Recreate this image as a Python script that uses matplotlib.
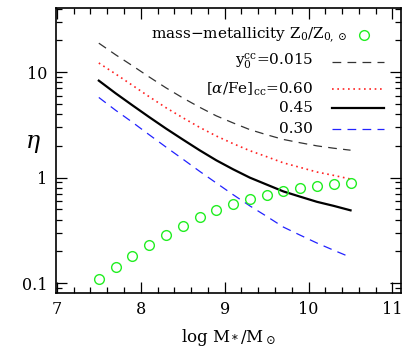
import numpy as np
import matplotlib
matplotlib.use("Agg")
import matplotlib.pyplot as plt
from matplotlib.lines import Line2D

plt.rcParams['font.family'] = ['DejaVu Serif']
plt.rcParams['mathtext.fontset'] = 'dejavuserif'

# stellar mass grid (log M*/Msun)
logm = [7.5, 7.7, 7.9, 8.1, 8.3, 8.5, 8.7, 8.9, 9.1, 9.3, 9.5, 9.7, 9.9, 10.1, 10.3, 10.5]

# mass-metallicity relation Z0/Z0,sun
z_ratio = [0.110, 0.143, 0.182, 0.231, 0.287, 0.349, 0.421, 0.494, 0.560, 0.633,
           0.690, 0.753, 0.794, 0.834, 0.866, 0.897]

# eta curves
eta_y015 = [18.8, 14.6, 11.5, 9.0, 7.1, 5.7, 4.65, 3.85, 3.3, 2.85, 2.55, 2.3, 2.14, 2.0, 1.9, 1.82]
eta_a060 = [12.2, 9.6, 7.5, 5.85, 4.6, 3.7, 3.0, 2.48, 2.1, 1.8, 1.58, 1.38, 1.25, 1.13, 1.05, 0.97]
eta_a045 = [8.3, 6.3, 4.85, 3.75, 2.92, 2.3, 1.82, 1.46, 1.2, 1.0, 0.86, 0.74, 0.66, 0.59, 0.54, 0.49]
eta_a030 = [5.75, 4.35, 3.35, 2.55, 1.95, 1.5, 1.15, 0.89, 0.69, 0.54, 0.43, 0.34, 0.285, 0.24, 0.205, 0.176]

fig = plt.figure(figsize=(4.15, 3.58), dpi=100)
ax = fig.add_axes([0.135, 0.182, 0.831, 0.796])

green = '#22ee22'
ax.plot(logm, eta_y015, color='#333333', lw=0.9, dashes=(7, 5))
ax.plot(logm, eta_a060, color='#ff2222', lw=1.2, dashes=(1, 2.2))
ax.plot(logm, eta_a045, color='black', lw=1.6)
ax.plot(logm, eta_a030, color='#2222ff', lw=0.9, dashes=(7, 5))
ax.plot(logm, z_ratio, 'o', mfc='none', mec=green, ms=7, mew=1.0)

ax.set_yscale('log')
ax.set_xlim(6.99, 11.1)
ax.set_ylim(0.081, 40.6)

ax.set_xticks([7, 8, 9, 10, 11])
ax.set_xticks(np.arange(7.2, 11.1, 0.2), minor=True)
ax.set_yticks([0.1, 1, 10])
ax.set_yticklabels(['0.1', '1', '10'])
ax.tick_params(which='both', direction='in', top=True, right=True, width=0.9, labelsize=11.5)
ax.tick_params(which='major', length=8, pad=6)
ax.tick_params(which='minor', length=4)
for s in ax.spines.values():
    s.set_linewidth(1.2)

ax.set_xlabel(r'log M$_*$/M$_\odot$', fontsize=12, labelpad=6)
ax.set_ylabel(r'$\eta$', fontsize=17, rotation=0)
ax.yaxis.set_label_coords(-0.068, 0.485)

# key, drawn by hand in axes coordinates
fs = 11
ax.text(0.845, 0.905, r'mass$-$metallicity Z$_0$/Z$_{0,\odot}$', transform=ax.transAxes,
        ha='right', va='center', fontsize=fs)
ax.add_line(Line2D([0.893], [0.905], transform=ax.transAxes, marker='o', mfc='none',
                   mec=green, ms=7, mew=1.0))
rows = [(r'y$_0^{\rm cc}$=0.015', dict(color='#333333', lw=0.9, dashes=(7, 5)), 0.81),
        (r'[$\alpha$/Fe]$_{\rm cc}$=0.60', dict(color='#ff2222', lw=1.2, dashes=(1, 2.2)), 0.716),
        ('0.45', dict(color='black', lw=1.6), 0.65),
        ('0.30', dict(color='#2222ff', lw=0.9, dashes=(7, 5)), 0.576)]
for label, style, yy in rows:
    ax.text(0.745, yy, label, transform=ax.transAxes, ha='right', va='center', fontsize=fs)
    ax.add_line(Line2D([0.80, 0.95], [yy, yy], transform=ax.transAxes, **style))

fig.savefig('out.png', dpi=100)
